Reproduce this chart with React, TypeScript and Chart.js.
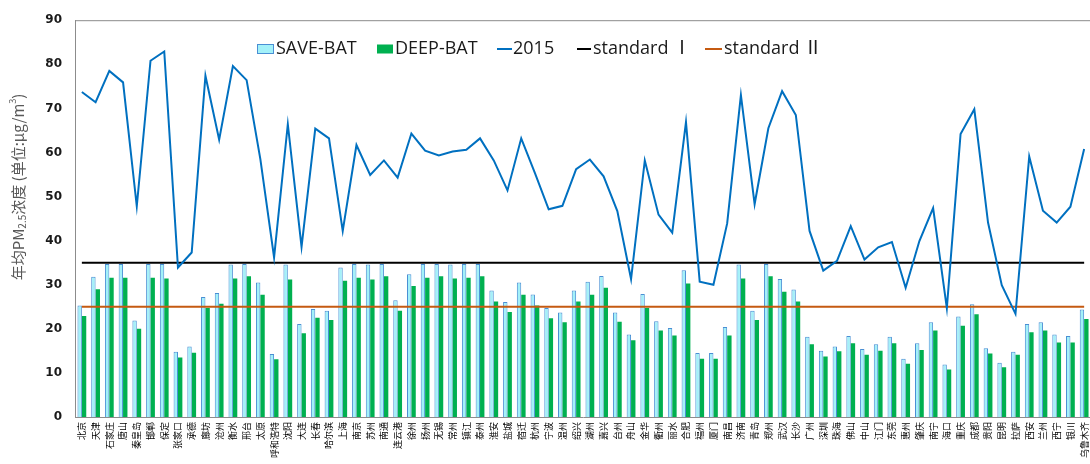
import React, { useEffect, useRef } from "react";
import { Chart, registerables } from "chart.js";

Chart.register(...registerables);

const cities: string[] = [
  "北京", "天津", "石家庄", "唐山", "秦皇岛", "邯郸", "保定", "张家口", "承德", "廊坊",
  "沧州", "衡水", "邢台", "太原", "呼和浩特", "沈阳", "大连", "长春", "哈尔滨",
  "上海", "南京", "苏州", "南通", "连云港", "徐州", "扬州", "无锡", "常州", "镇江",
  "泰州", "淮安", "盐城", "宿迁", "杭州", "宁波", "温州", "绍兴", "湖州", "嘉兴",
  "台州", "舟山", "金华", "衢州", "丽水", "合肥", "福州", "厦门", "南昌", "济南",
  "青岛", "郑州", "武汉", "长沙", "广州", "深圳", "珠海",
  "佛山", "中山", "江门", "东莞", "惠州", "肇庆", "南宁", "海口", "重庆", "成都",
  "贵阳", "昆明", "拉萨", "西安", "兰州", "西宁", "银川", "乌鲁木齐",
];

const saveBat: number[] = [
  25.3, 31.8, 34.7, 34.7, 21.9, 34.7, 34.7, 14.8, 16.0, 27.2,
  28.1, 34.6, 34.7, 30.5, 14.3, 34.6, 21.1, 24.5, 24.1,
  33.9, 34.7, 34.6, 34.7, 26.5, 32.4, 34.7, 34.7, 34.6, 34.7,
  34.7, 28.7, 26.1, 30.5, 27.8, 24.7, 23.7, 28.7, 30.7, 32.0,
  23.7, 18.7, 27.9, 21.7, 20.2, 33.3, 14.5, 14.5, 20.4, 34.6,
  24.1, 34.7, 31.3, 28.9, 18.2, 15.0, 16.0,
  18.4, 15.4, 16.5, 18.2, 13.2, 16.7, 21.5, 11.9, 22.8, 25.6,
  15.6, 12.3, 14.8, 21.1, 21.5, 18.7, 18.4, 24.4,
];

const deepBat: number[] = [
  22.9, 29.0, 31.6, 31.6, 20.0, 31.6, 31.4, 13.5, 14.6, 24.7,
  25.7, 31.4, 31.9, 27.7, 13.1, 31.2, 19.0, 22.5, 22.0,
  30.9, 31.6, 31.2, 31.9, 24.1, 29.7, 31.6, 31.9, 31.4, 31.6,
  31.9, 26.2, 23.8, 27.7, 25.3, 22.4, 21.5, 26.2, 27.7, 29.3,
  21.6, 17.4, 24.7, 19.6, 18.5, 30.3, 13.2, 13.2, 18.5, 31.4,
  22.0, 31.9, 28.4, 26.2, 16.5, 13.7, 14.9,
  16.7, 14.1, 15.0, 16.7, 12.1, 15.2, 19.6, 10.8, 20.7, 23.3,
  14.4, 11.3, 14.1, 19.2, 19.6, 16.9, 16.9, 22.2,
];

const y2015: number[] = [
  73.7, 71.4, 78.5, 75.9, 47.8, 80.8, 82.9, 33.9, 37.3, 77.4,
  62.9, 79.6, 76.4, 58.5, 36.2, 66.4, 38.6, 65.4, 63.2,
  42.2, 61.7, 54.9, 58.2, 54.3, 64.3, 60.4, 59.3, 60.2, 60.6,
  63.2, 58.2, 51.4, 63.2, 55.3, 47.1, 47.9, 56.2, 58.4, 54.6,
  46.7, 31.3, 58.2, 45.9, 41.8, 66.9, 30.7, 30.0, 43.9, 73.0,
  48.3, 65.5, 73.9, 68.5, 42.2, 33.2, 35.4,
  43.3, 35.7, 38.5, 39.7, 29.3, 39.9, 47.4, 24.7, 64.2, 69.8,
  44.1, 29.9, 23.4, 59.1, 46.8, 44.1, 47.7, 60.8,
];

const STANDARD_I = 35;
const STANDARD_II = 25;

const yTicks: number[] = [0, 10, 20, 30, 40, 50, 60, 70, 80, 90];

const C_SAVE_FILL = "#A3F1F9";
const C_SAVE_BORDER = "#4A8FD4";
const C_DEEP = "#00B050";
const C_2015 = "#0070C0";
const C_STD1 = "#000000";
const C_STD2 = "#C55A11";

const legendFont = "18px 'Open Sans', 'Noto Sans CJK SC', sans-serif";

export default function App() {
  const ref = useRef<HTMLCanvasElement>(null);

  useEffect(() => {
    const canvas = ref.current;
    if (!canvas) return;

    const overlay = {
      id: "overlay",
      afterDraw(chart: any) {
        const ctx: CanvasRenderingContext2D = chart.ctx;
        const a = chart.chartArea;
        ctx.save();
        // top border of plot area
        ctx.strokeStyle = "#8C8C8C";
        ctx.lineWidth = 1;
        ctx.beginPath();
        ctx.moveTo(a.left, a.top + 0.5);
        ctx.lineTo(a.right, a.top + 0.5);
        ctx.stroke();

        // y-axis title with sub/superscripts
        const pieces = [
          { t: "年均PM", s: 15, dy: 0 },
          { t: "2.5", s: 10, dy: 4 },
          { t: "浓度 (单位:μg/m", s: 15, dy: 0 },
          { t: "3", s: 9, dy: -5 },
          { t: ")", s: 15, dy: 0 },
        ];
        const fam = "'Noto Sans CJK SC', 'Noto Sans', sans-serif";
        let total = 0;
        for (const p of pieces) {
          ctx.font = `${p.s}px ${fam}`;
          total += ctx.measureText(p.t).width;
        }
        ctx.translate(18, 187);
        ctx.rotate(-Math.PI / 2);
        ctx.fillStyle = "#595959";
        ctx.textBaseline = "middle";
        ctx.textAlign = "left";
        let x = -total / 2;
        for (const p of pieces) {
          ctx.font = `${p.s}px ${fam}`;
          ctx.fillText(p.t, x, p.dy);
          x += ctx.measureText(p.t).width;
        }
        ctx.setTransform(1, 0, 0, 1, 0, 0);

        // legend
        const ly = 49;
        ctx.font = legendFont;
        ctx.textBaseline = "middle";
        ctx.textAlign = "left";
        ctx.fillStyle = "#1A1A1A";
        // SAVE-BAT
        ctx.fillStyle = C_SAVE_FILL;
        ctx.fillRect(257.5, 44.5, 16, 9);
        ctx.strokeStyle = C_SAVE_BORDER;
        ctx.lineWidth = 1;
        ctx.strokeRect(257.5, 44.5, 16, 9);
        ctx.fillStyle = "#1A1A1A";
        ctx.fillText("SAVE-BAT", 276, ly);
        // DEEP-BAT
        ctx.fillStyle = C_DEEP;
        ctx.fillRect(377, 44.5, 16, 9);
        ctx.fillStyle = "#1A1A1A";
        ctx.fillText("DEEP-BAT", 395, ly);
        // lines
        const lineItem = (x0: number, x1: number, color: string, label: string, tx: number) => {
          ctx.strokeStyle = color;
          ctx.lineWidth = 2;
          ctx.beginPath();
          ctx.moveTo(x0, ly);
          ctx.lineTo(x1, ly);
          ctx.stroke();
          ctx.fillStyle = "#1A1A1A";
          ctx.fillText(label, tx, ly);
        };
        lineItem(497, 512, C_2015, "2015", 513);
        lineItem(577, 591, C_STD1, "standard Ⅰ", 593);
        lineItem(705, 722, C_STD2, "standard Ⅱ", 724);
        ctx.restore();
      },
    };

    const chart = new Chart(canvas, {
      type: "bar",
      data: {
        labels: cities,
        datasets: [
          {
            type: "line",
            label: "2015",
            data: y2015,
            borderColor: C_2015,
            backgroundColor: C_2015,
            borderWidth: 2,
            pointRadius: 0,
            tension: 0,
            order: 0,
          } as any,
          {
            type: "line",
            label: "standard Ⅰ",
            data: cities.map(() => STANDARD_I),
            borderColor: C_STD1,
            borderWidth: 2,
            pointRadius: 0,
            order: 1,
          } as any,
          {
            type: "line",
            label: "standard Ⅱ",
            data: cities.map(() => STANDARD_II),
            borderColor: C_STD2,
            borderWidth: 2,
            pointRadius: 0,
            order: 1,
          } as any,
          {
            type: "bar",
            label: "SAVE-BAT",
            data: saveBat,
            backgroundColor: C_SAVE_FILL,
            borderColor: C_SAVE_BORDER,
            borderWidth: 1,
            categoryPercentage: 0.64,
            barPercentage: 1.0,
            order: 2,
          } as any,
          {
            type: "bar",
            label: "DEEP-BAT",
            data: deepBat,
            backgroundColor: C_DEEP,
            borderWidth: 0,
            categoryPercentage: 0.64,
            barPercentage: 1.0,
            order: 2,
          } as any,
        ],
      },
      options: {
        animation: false,
        responsive: false,
        devicePixelRatio: 1,
        layout: { padding: { left: 0, top: 18, right: 8, bottom: 0 } },
        plugins: {
          legend: { display: false },
          tooltip: { enabled: false },
          title: { display: false },
        },
        scales: {
          x: {
            grid: { display: false, drawTicks: false },
            border: { display: true, color: "#8C8C8C", width: 1 },
            ticks: {
              autoSkip: false,
              minRotation: 90,
              maxRotation: 90,
              padding: 5,
              color: "#000000",
              font: { family: "'Noto Sans CJK SC', sans-serif", size: 9 },
            },
            afterFit(scale: any) {
              scale.height = 47;
            },
          },
          y: {
            min: 0,
            max: 90,
            afterBuildTicks(scale: any) {
              scale.ticks = yTicks.map((v) => ({ value: v }));
            },
            grid: { display: false, drawTicks: false },
            border: { display: true, color: "#8C8C8C", width: 1 },
            ticks: {
              padding: 13,
              color: "#1A1A1A",
              font: { family: "'DejaVu Sans', sans-serif", size: 12, weight: "bold" },
            },
            afterFit(scale: any) {
              scale.width = 75;
            },
          },
        },
      } as any,
      plugins: [overlay],
    });

    return () => chart.destroy();
  }, []);

  return (
    <div
      style={{
        position: "absolute",
        left: 0,
        top: 0,
        width: 1090,
        height: 464,
        overflow: "hidden",
        background: "#ffffff",
      }}
    >
      <canvas ref={ref} width={1100} height={464} style={{ display: "block" }} />
    </div>
  );
}
